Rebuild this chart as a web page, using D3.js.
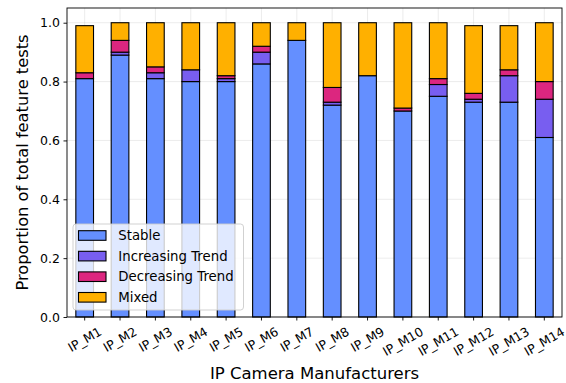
<!DOCTYPE html>
<html>
<head>
<meta charset="utf-8">
<script src="https://cdn.jsdelivr.net/npm/d3@7/dist/d3.min.js"></script>
<style>
  html, body { margin: 0; padding: 0; background: #fff; }
  svg { display: block; font-family: "DejaVu Sans", sans-serif; }
</style>
</head>
<body>
<svg id="chart" width="566" height="383"></svg>
<script>
// Manufacturers on the x axis
const manufacturers = ["IP_M1","IP_M2","IP_M3","IP_M4","IP_M5","IP_M6","IP_M7",
                       "IP_M8","IP_M9","IP_M10","IP_M11","IP_M12","IP_M13","IP_M14"];
// Share of feature tests per trend category
const stable     = [0.81,0.89,0.81,0.80,0.80,0.86,0.94,0.72,0.82,0.70,0.75,0.73,0.73,0.61];
const increasing = [0.00,0.01,0.02,0.04,0.01,0.04,0.00,0.01,0.00,0.00,0.04,0.01,0.09,0.13];
const decreasing = [0.02,0.04,0.02,0.00,0.01,0.02,0.00,0.05,0.00,0.01,0.02,0.02,0.02,0.06];
const mixed      = [0.16,0.06,0.15,0.16,0.18,0.08,0.06,0.22,0.18,0.29,0.19,0.23,0.15,0.20];
const seriesNames = ["Stable","Increasing Trend","Decreasing Trend","Mixed"];
const yTicks = [0.0,0.2,0.4,0.6,0.8,1.0];

const colors = ["#648FFF","#785EF0","#DC267F","#FFB000"];
const seriesValues = [stable, increasing, decreasing, mixed];

const svg = d3.select("#chart");
const m = {left: 67, right: 562, top: 8, bottom: 317};

const x = d3.scaleLinear().domain([-0.5, manufacturers.length - 0.5]).range([m.left, m.right]);
const y = d3.scaleLinear().domain([0, 1.05]).range([m.bottom, m.top]);
const barW = x(0.25) - x(-0.25);

// grid
const grid = svg.append("g");
grid.selectAll("line.h").data(yTicks).join("line")
  .attr("x1", m.left).attr("x2", m.right)
  .attr("y1", d => y(d)).attr("y2", d => y(d))
  .attr("stroke", "#b0b0b0").attr("stroke-opacity", 0.3).attr("stroke-width", 0.8);
grid.selectAll("line.v").data(manufacturers.map((d, i) => i)).join("line")
  .attr("y1", m.top).attr("y2", m.bottom)
  .attr("x1", d => x(d)).attr("x2", d => x(d))
  .attr("stroke", "#b0b0b0").attr("stroke-opacity", 0.3).attr("stroke-width", 0.8);

// stacked bars
const rows = manufacturers.map((name, i) => {
  const r = {name, i};
  seriesNames.forEach((s, k) => r[s] = seriesValues[k][i]);
  return r;
});
const stack = d3.stack().keys(seriesNames)(rows);
stack.forEach((layer, k) => {
  svg.append("g").selectAll("rect").data(layer).join("rect")
    .attr("x", d => x(d.data.i) - barW / 2)
    .attr("width", barW)
    .attr("y", d => y(d[1]))
    .attr("height", d => y(d[0]) - y(d[1]))
    .attr("fill", colors[k])
    .attr("stroke", "#000").attr("stroke-width", 1.1);
});

// frame
svg.append("rect").attr("x", m.left).attr("y", m.top)
  .attr("width", m.right - m.left).attr("height", m.bottom - m.top)
  .attr("fill", "none").attr("stroke", "#000").attr("stroke-width", 0.9);

// y axis
const yAxis = d3.axisLeft(y).tickValues(yTicks).tickFormat(d3.format(".1f")).tickSize(3.5).tickPadding(3.5);
const gy = svg.append("g").attr("transform", `translate(${m.left},0)`).call(yAxis);
gy.select(".domain").remove();
gy.selectAll("text").attr("font-size", 12.5).attr("fill", "#000").attr("font-family", "DejaVu Sans");
gy.selectAll("line").attr("stroke", "#000").attr("stroke-width", 0.9);

// x axis ticks
const gx = svg.append("g");
gx.selectAll("line").data(manufacturers.map((d, i) => i)).join("line")
  .attr("x1", d => x(d)).attr("x2", d => x(d))
  .attr("y1", m.bottom).attr("y2", m.bottom + 3.5)
  .attr("stroke", "#000").attr("stroke-width", 0.9);
// rotated labels, bounding box centred under each tick
const fs = 12.5;
gx.selectAll("text").data(manufacturers).join("text")
  .text(d => d)
  .attr("font-size", fs).attr("text-anchor", "middle").attr("fill", "#000")
  .each(function(d, i) {
    const w = this.getComputedTextLength();
    const h = fs * 1.16;
    const bh = w * 0.5 + h * Math.cos(Math.PI / 6);
    const cx = x(i), cy = m.bottom + 3.5 + 3.5 + bh / 2;
    d3.select(this).attr("dominant-baseline", "central")
      .attr("transform", `translate(${cx},${cy}) rotate(-30)`);
  });

// axis titles
svg.append("text").attr("x", (m.left + m.right) / 2).attr("y", 378.5)
  .attr("text-anchor", "middle").attr("font-size", 16.5).text("IP Camera Manufacturers");
svg.append("text").attr("transform", `translate(27.5,${(m.top + m.bottom) / 2}) rotate(-90)`)
  .attr("text-anchor", "middle").attr("font-size", 16.3).text("Proportion of total feature tests");

// legend
const lg = svg.append("g");
lg.append("rect").attr("x", 73).attr("y", 224).attr("width", 170.5).attr("height", 86)
  .attr("rx", 3).attr("fill", "#fff").attr("fill-opacity", 0.8)
  .attr("stroke", "#ccc").attr("stroke-width", 0.9);
seriesNames.forEach((s, k) => {
  const cy = 235.5 + k * 20.6;
  lg.append("rect").attr("x", 78.5).attr("y", cy - 4.8).attr("width", 27.5).attr("height", 9.6)
    .attr("fill", colors[k]).attr("stroke", "#000").attr("stroke-width", 1.1);
  lg.append("text").attr("x", 118.3).attr("y", cy).attr("dominant-baseline", "central")
    .attr("font-size", 13.3).text(s);
});
</script>
</body>
</html>
